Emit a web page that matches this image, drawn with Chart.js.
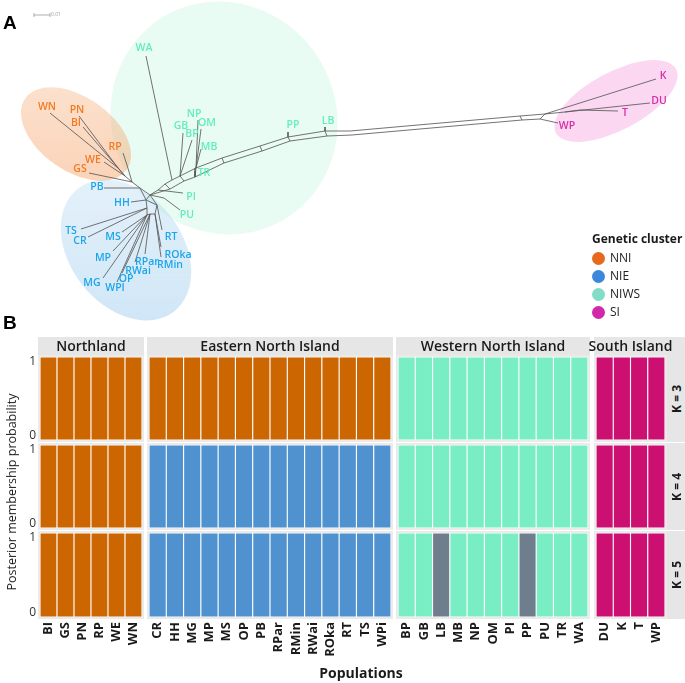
<!DOCTYPE html>
<html>
<head>
<meta charset="utf-8">
<script src="https://cdn.jsdelivr.net/npm/chart.js@4.4.1/dist/chart.umd.min.js"></script>
<style>
  html, body { margin:0; padding:0; background:#fff; }
  #fig { position:relative; width:685px; height:683px; overflow:hidden; font-family:"Open Sans","DejaVu Sans",sans-serif; color:#1a1a1a; }
  #fig canvas { position:absolute; }
  .abs { position:absolute; white-space:nowrap; }
  .letter { position:absolute; font-family:"Liberation Sans",Arial,sans-serif; font-weight:700; font-size:19px; color:#000; line-height:1; }
  .strip { position:absolute; background:#e6e6e6; display:flex; align-items:center; justify-content:center; font-size:14px; font-weight:600; color:#1a1a1a; white-space:nowrap; line-height:1; overflow:visible; }
  .kstrip { position:absolute; background:#e6e6e6; display:flex; align-items:center; justify-content:center; }
  .kstrip span { writing-mode:vertical-rl; transform:rotate(180deg); font-size:12px; font-weight:700; color:#1a1a1a; white-space:nowrap; }
  .legTitle { position:absolute; font-size:12px; font-weight:700; color:#1a1a1a; line-height:1; }
  .legItem { position:absolute; font-size:12px; color:#222; line-height:1; display:flex; align-items:center; }
  .legItem i { display:inline-block; width:13px; height:13px; border-radius:50%; margin-right:5px; }
</style>
</head>
<body>
<div id="fig">
  <canvas id="netA" width="685" height="330" style="left:0;top:0"></canvas>
</div>
<script>
// ======================= DATA =======================
// ---- Panel B: STRUCTURE results ----
const regionNames = ['Northland', 'Eastern North Island', 'Western North Island', 'South Island'];
const northlandPops = ['BI','GS','PN','RP','WE','WN'];
const easternPops = ['CR','HH','MG','MP','MS','OP','PB','RPar','RMin','RWai','ROka','RT','TS','WPi'];
const westernPops = ['BP','GB','LB','MB','NP','OM','PI','PP','PU','TR','WA'];
const southPops = ['DU','K','T','WP'];
const kLabels = ['K = 3', 'K = 4', 'K = 5'];
const clusterIds = ['NNI','NIE','NIWS','SI','C5'];

// assigned cluster per population (order: Northland, Eastern, Western, South)
const assignK3 = [
  'NNI','NNI','NNI','NNI','NNI','NNI',
  'NNI','NNI','NNI','NNI','NNI','NNI','NNI','NNI','NNI','NNI','NNI','NNI','NNI','NNI',
  'NIWS','NIWS','NIWS','NIWS','NIWS','NIWS','NIWS','NIWS','NIWS','NIWS','NIWS',
  'SI','SI','SI','SI'];
const assignK4 = [
  'NNI','NNI','NNI','NNI','NNI','NNI',
  'NIE','NIE','NIE','NIE','NIE','NIE','NIE','NIE','NIE','NIE','NIE','NIE','NIE','NIE',
  'NIWS','NIWS','NIWS','NIWS','NIWS','NIWS','NIWS','NIWS','NIWS','NIWS','NIWS',
  'SI','SI','SI','SI'];
const assignK5 = [
  'NNI','NNI','NNI','NNI','NNI','NNI',
  'NIE','NIE','NIE','NIE','NIE','NIE','NIE','NIE','NIE','NIE','NIE','NIE','NIE','NIE',
  'NIWS','NIWS','C5','NIWS','NIWS','NIWS','NIWS','C5','NIWS','NIWS','NIWS',
  'SI','SI','SI','SI'];
// posterior membership probability of the assigned cluster
const probK3 = [1,1,1,1,1,1, 1,1,1,1,1,1,1,1,1,1,1,1,1,1, 1,1,1,1,1,1,1,1,1,1,1, 1,1,1,1];
const probK4 = [1,1,1,1,1,1, 1,1,1,1,1,1,1,1,1,1,1,1,1,1, 1,1,1,1,1,1,1,1,1,1,1, 1,1,1,1];
const probK5 = [1,1,1,1,1,1, 1,1,1,1,1,1,1,1,1,1,1,1,1,1, 1,1,1,1,1,1,1,1,1,1,1, 1,1,1,1];

// ---- Panel A: split network ----
const tipNames   = ['WN','PN','BI','RP','WE','GS',
  'PB','HH','TS','CR','MS','MP','MG','WPI','OP','RWai','RPar','RMin','ROka','RT',
  'WA','NP','OM','GB','BP','MB','TR','PI','PU','PP','LB',
  'K','DU','T','WP'];
const tipCluster = ['NNI','NNI','NNI','NNI','NNI','NNI',
  'NIE','NIE','NIE','NIE','NIE','NIE','NIE','NIE','NIE','NIE','NIE','NIE','NIE','NIE',
  'NIWS','NIWS','NIWS','NIWS','NIWS','NIWS','NIWS','NIWS','NIWS','NIWS','NIWS',
  'SI','SI','SI','SI'];
const labelX = [47,77,76,115,93,80, 97,122,71,80,113,103,92,115,126,138,147,170,178,171, 144,194,207,181,192,209,204,191,187,293,328, 663,659,625,567];
const labelY = [107,110,123,147,160,169, 187,203,231,241,237,258,283,288,279,271,262,265,255,237, 48,114,123,126,134,147,173,197,215,125,121, 76,101,113,126];
const tipX = [50,79,83,123,104,89, 104,131,81,88,122,113,103,117,122,135,145,161,161,162, 146,198,201,183,192,201,195,183,180,288,325, 656,650,618,558];
const tipY = [113,116,127,153,162,173, 188,202,229,237,232,251,278,282,273,262,254,257,247,230, 56,120,129,133,140,149,171,193,210,132,127, 79,103,111,123];
const innerNames = ['a','b','rp','c','d','e','f','g','h','h2','i','o','p','pu','q','wa','r','s','t','u','v','w','x','y','z','pp1','pp2','lb1','lb2','l1','l2','s1','s2','s6','s3','s4','s5'];
const innerX = [118,125,127,132,140,146,147,147,150,155,157,150,158,164,165,172,170,180,184,196,195,222,224,260,262,288,290,325,327,350,352,520,522,540,545,565,580];
const innerY = [168,176,165,182,188,200,208,215,214,214,205,195,190,198,184,180,189,176,181,168,177,158,163,146,151,137,141,131,136,131,135,116,120,119,114,112,110];
const edgeFrom = ['WN','PN','BI','RP','rp','WE','GS','a','b','c','d',
  'PB','HH','TS','CR','MS','MP','MG','WPI','OP','RWai','RPar','RMin','ROka','RT',
  'e','f','g','h','h2','h2','i','d','e',
  'o','p','o','q','q','wa','r','s','s','t','u','u','v','w','w','x','y','y','z','pp1','pp1','pp2','lb1','lb1','lb2','l1','l2','s1','s2','s1','s6','s3','s4',
  'WA','GB','BP','NP','OM','MB','TR','PI','PU','pu','PP','LB','K','DU','T','WP'];
const edgeTo = ['a','a','b','rp','c','b','c','b','c','d','o',
  'd','e','f','f','g','g','g','g','h','h','h','h2','h2','i',
  'o','e','f','g','h','i','o','e','i',
  'p','q','r','r','wa','s','t','t','u','v','v','w','x','x','y','z','z','pp1','pp2','pp2','lb1','lb2','lb2','l1','l2','s1','s2','s3','s6','s2','s3','s4','s5',
  'wa','s','s','u','u','u','v','p','pu','o','pp1','lb1','s3','s4','s5','s6'];
// cluster hulls (centre, semi-axes, rotation in degrees)
const hullCluster = ['NIWS','NNI','NIE','SI'];
const hullCX = [224, 76, 126, 616];
const hullCY = [118, 134, 250, 101];
const hullRX = [112, 62, 78, 68];
const hullRY = [118, 37, 56, 29];
const hullAngle = [-30, 35, 52, -28];
// scale bar (0.01 substitutions per site)
const scaleBarX = [34, 50];
const scaleBarY = [15, 15];
const scaleBarLabel = '0.01';

// legend
const legendTitle = 'Genetic cluster';
const legendNames = ['NNI','NIE','NIWS','SI'];

// ======================= STYLE =======================
const FONT = '"Open Sans", "DejaVu Sans", sans-serif';
const barColors = { NNI:'#cc6600', NIE:'#4f92cf', NIWS:'#79eec5', SI:'#cb1072', C5:'#6e7e8c' };
const labelColors = { NNI:'#f47a22', NIE:'#1ba6ea', NIWS:'#62edbc', SI:'#d42fa3' };
const hullColors = { NIWS:['rgba(190,245,220,0.34)','rgba(190,245,220,0.34)'], NNI:['rgba(245,160,100,0.30)','rgba(245,160,100,0.48)'],
                     NIE:['rgba(160,205,238,0.28)','rgba(160,205,238,0.50)'], SI:['rgba(248,160,225,0.42)','rgba(248,160,225,0.42)'] };
const legendColors = { NNI:'#e6691e', NIE:'#3b87dc', NIWS:'#82dcc8', SI:'#d228aa' };

const fig = document.getElementById('fig');
function addDiv(cls, text, css) {
  const d = document.createElement('div');
  d.className = cls; if (text !== null) d.textContent = text;
  Object.assign(d.style, css); fig.appendChild(d); return d;
}

// ======================= PANEL A =======================
const nodeX = {}, nodeY = {};
tipNames.forEach((n, i) => { nodeX[n] = tipX[i]; nodeY[n] = tipY[i]; });
innerNames.forEach((n, i) => { nodeX[n] = innerX[i]; nodeY[n] = innerY[i]; });
const edgeSets = edgeFrom.map((a, i) => ({
  data: [{ x: nodeX[a], y: nodeY[a] }, { x: nodeX[edgeTo[i]], y: nodeY[edgeTo[i]] }],
  showLine: true, borderColor: '#5a5a5a', borderWidth: 0.85, pointRadius: 0, tension: 0, fill: false
}));
const scaleSet = {
  data: scaleBarX.map((x, i) => ({ x, y: scaleBarY[i] })),
  showLine: true, borderColor: '#9a9a9a', borderWidth: 0.8, pointRadius: 0
};
const tipSet = { data: labelX.map((x, i) => ({ x, y: labelY[i] })), pointRadius: 0, showLine: false };

const hullPlugin = {
  id: 'hulls',
  beforeDatasetsDraw(chart) {
    const { ctx, scales: { x, y } } = chart;
    hullCluster.forEach((c, i) => {
      const cx = x.getPixelForValue(hullCX[i]), cy = y.getPixelForValue(hullCY[i]);
      const rx = Math.abs(x.getPixelForValue(hullCX[i] + hullRX[i]) - cx);
      const ry = Math.abs(y.getPixelForValue(hullCY[i] + hullRY[i]) - cy);
      const ext = Math.max(rx, ry);
      const g = ctx.createLinearGradient(0, cy - ext, 0, cy + ext);
      g.addColorStop(0, hullColors[c][0]); g.addColorStop(1, hullColors[c][1]);
      ctx.save();
      ctx.beginPath();
      ctx.ellipse(cx, cy, rx, ry, hullAngle[i] * Math.PI / 180, 0, 2 * Math.PI);
      ctx.fillStyle = g;
      ctx.fill();
      ctx.restore();
    });
  }
};
const labelPlugin = {
  id: 'tipLabels',
  afterDatasetsDraw(chart) {
    const { ctx, scales: { x, y } } = chart;
    const meta = chart.getDatasetMeta(chart.data.datasets.length - 1);
    ctx.save();
    ctx.font = '600 10.5px ' + FONT;
    ctx.textAlign = 'center'; ctx.textBaseline = 'middle';
    meta.data.forEach((pt, i) => {
      ctx.fillStyle = labelColors[tipCluster[i]];
      ctx.fillText(tipNames[i], pt.x, pt.y);
    });
    // scale bar label
    ctx.font = '5px ' + FONT; ctx.fillStyle = '#9a9a9a'; ctx.textAlign = 'left';
    ctx.fillText(scaleBarLabel, x.getPixelForValue(scaleBarX[1]) + 1, y.getPixelForValue(scaleBarY[1]));
    ctx.strokeStyle = '#9a9a9a'; ctx.lineWidth = 0.8;
    scaleBarX.forEach((sx, i) => {
      const px = x.getPixelForValue(sx), py = y.getPixelForValue(scaleBarY[i]);
      ctx.beginPath(); ctx.moveTo(px, py - 2); ctx.lineTo(px, py + 2); ctx.stroke();
    });
    ctx.restore();
  }
};
new Chart(document.getElementById('netA'), {
  type: 'scatter',
  data: { datasets: [...edgeSets, scaleSet, tipSet] },
  options: {
    responsive: false, animation: false, events: [],
    layout: { padding: 0 },
    scales: {
      x: { type: 'linear', min: 0, max: 685, display: false },
      y: { type: 'linear', min: 0, max: 330, reverse: true, display: false }
    },
    plugins: { legend: { display: false }, tooltip: { enabled: false } }
  },
  plugins: [hullPlugin, labelPlugin]
});

// panel letters
addDiv('letter', 'A', { left: '3px', top: '13px' });
addDiv('letter', 'B', { left: '3px', top: '313px' });

// legend
addDiv('legTitle', legendTitle, { left: '592px', top: '233px' });
const legendRowY = [258, 276, 294, 312];
legendNames.forEach((n, i) => {
  const d = addDiv('legItem', null, { left: '592px', top: (legendRowY[i] - 7) + 'px', height: '14px' });
  const dot = document.createElement('i'); dot.style.background = legendColors[n];
  d.appendChild(dot); d.appendChild(document.createTextNode(n));
});

// ======================= PANEL B =======================
const facetPops = [northlandPops, easternPops, westernPops, southPops];
const assignments = [assignK3, assignK4, assignK5];
const probs = [probK3, probK4, probK5];
const facetBarX = [[40,142],[149,391],[398,588],[596,665]];
const rowBarY = [[357,440],[445,528],[533,617]];
const M = 20, PAD = 2, YAXIS_W = 18, XAXIS_H = 48;
const STRIP_TOP = 337, STRIP_H = 18;

const panelBg = {
  id: 'panelBg',
  beforeDraw(chart) {
    const a = chart.chartArea, c = chart.ctx;
    c.save(); c.fillStyle = '#ebebeb';
    c.fillRect(a.left - PAD, a.top - PAD, a.right - a.left + 2 * PAD, a.bottom - a.top + 2 * PAD);
    c.restore();
  }
};

// corner strip (behind the facet strip texts)
addDiv('strip', '', { left: '667px', top: STRIP_TOP + 'px', width: '18px', height: STRIP_H + 'px' });

let offset = 0;
facetPops.forEach((pops, f) => {
  const [bx0, bx1] = facetBarX[f];
  rowBarY.forEach(([by0, by1], r) => {
    const hasY = f === 0, hasX = r === 2;
    const cv = document.createElement('canvas');
    const w = (bx1 - bx0) + 2 * M + (hasY ? YAXIS_W : 0);
    const h = (by1 - by0) + 2 * M + (hasX ? XAXIS_H : 0);
    cv.width = w; cv.height = h;
    cv.style.left = (bx0 - M - (hasY ? YAXIS_W : 0)) + 'px';
    cv.style.top = (by0 - M) + 'px';
    fig.appendChild(cv);
    const datasets = clusterIds.map(cid => ({
      label: cid,
      data: pops.map((p, j) => assignments[r][offset + j] === cid ? probs[r][offset + j] : 0),
      backgroundColor: barColors[cid], borderColor: '#ffffff', borderWidth: 0.9, borderSkipped: false,
      categoryPercentage: 1, barPercentage: 1
    }));
    new Chart(cv, {
      type: 'bar',
      data: { labels: pops, datasets },
      options: {
        responsive: false, animation: false, events: [],
        layout: { padding: M },
        plugins: { legend: { display: false }, tooltip: { enabled: false } },
        scales: {
          x: { stacked: true, display: hasX, offset: true,
               grid: { display: false, drawTicks: false }, border: { display: false },
               ticks: { autoSkip: false, minRotation: 90, maxRotation: 90, padding: 5, color: '#1a1a1a',
                        font: { family: FONT, size: 13, weight: 'bold' } },
               afterFit(s) { if (hasX) s.height = XAXIS_H; } },
          y: { stacked: true, display: hasY, min: 0, max: 1,
               grid: { display: false, drawTicks: false }, border: { display: false },
               ticks: { stepSize: 1, padding: 4, color: '#333', font: { family: FONT, size: 12, lineHeight: 0.8 },
                        // keep the end labels inside the panel (label placed below the top / above the bottom)
                        callback: v => v === 1 ? ['', '1'] : (v === 0 ? ['0', ''] : String(v)) },
               afterFit(s) { if (hasY) s.width = YAXIS_W; } }
        }
      },
      plugins: [panelBg]
    });
  });
  offset += pops.length;
});

// facet strips on top
facetPops.forEach((pops, f) => {
  const [bx0, bx1] = facetBarX[f];
  const d = addDiv('strip', regionNames[f], { left: (bx0 - PAD) + 'px', top: STRIP_TOP + 'px', width: (bx1 - bx0 + 2 * PAD) + 'px', height: STRIP_H + 'px' });
  d.style.zIndex = f === 3 ? '2' : '1';
});

// K strips on the right
rowBarY.forEach(([by0, by1], r) => {
  const d = addDiv('kstrip', null, { left: '667px', top: (by0 - PAD) + 'px', width: '18px', height: (by1 - by0 + 2 * PAD) + 'px' });
  const s = document.createElement('span'); s.textContent = kLabels[r]; d.appendChild(s);
});

// axis titles
addDiv('abs', 'Posterior membership probability', { left: '-108px', top: '484px', width: '240px', height: '16px', textAlign: 'center', fontSize: '12.5px', fontWeight: '500', color: '#222', transform: 'rotate(-90deg)', lineHeight: '16px' });
addDiv('abs', 'Populations', { left: '301px', top: '664px', width: '120px', textAlign: 'center', fontSize: '14px', fontWeight: '700', color: '#1a1a1a', lineHeight: '18px' });
</script>
</body>
</html>
